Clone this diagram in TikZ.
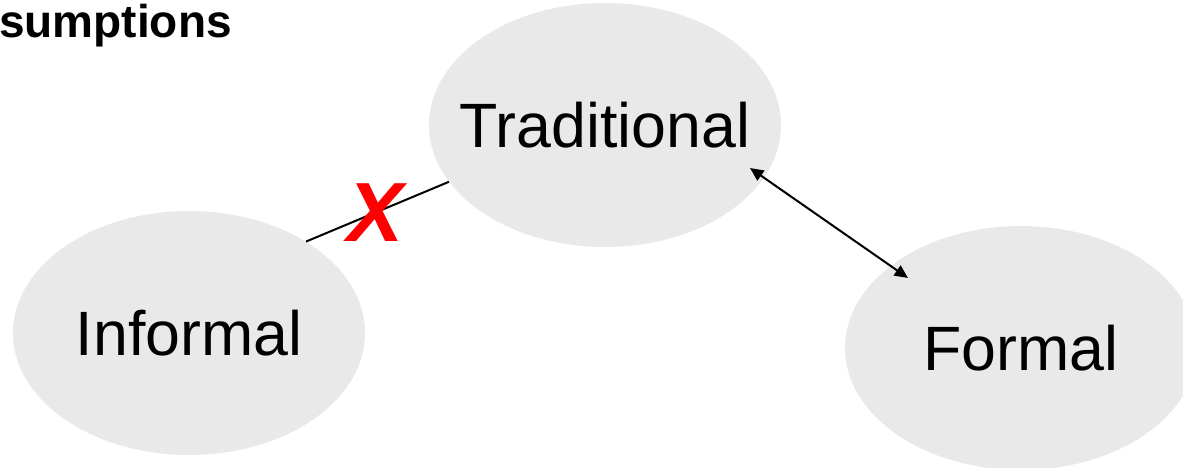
\documentclass[tikz,border=0pt]{standalone}
\usepackage{fontspec}
\setmainfont{Liberation Sans}
\usetikzlibrary{arrows.meta,shapes.geometric}
\definecolor{bubble}{HTML}{E9E9E9}
\definecolor{xred}{HTML}{FF0000}
\newcommand{\zw}[1]{\makebox[0pt]{#1}}
\begin{document}
\begin{tikzpicture}[x=0.75pt,y=-0.75pt,
  bubble/.style={ellipse,fill=bubble,draw=none,minimum width=264pt,minimum height=183pt,inner sep=0pt,
    font=\fontsize{47}{56}\selectfont},
  link/.style={line width=1.5pt,black},
  tip/.style={{Triangle[length=10pt,width=9pt]}-{Triangle[length=10pt,width=9pt]}}]
\useasboundingbox (0,0) rectangle (1183,468);
\clip (0,0) rectangle (1183,468);
\node[bubble] (trad) at (605,125) {\zw{Traditional}};
\node[bubble] (inf) at (189,333) {\zw{Informal}};
\node[bubble] (form) at (1021,348) {\zw{Formal}};
\node[anchor=base east,inner sep=0pt,font=\fontsize{34.5}{40}\selectfont\bfseries] (title) at (232,37) {sumptions};
\draw[link] (inf.38) -- (trad.200);
\draw[link,tip] ([shift={(145,43)}]trad.center) -- ([shift={(-113,-70)}]form.center);
\node[text=xred,inner sep=0pt,font=\fontsize{63}{70}\selectfont\bfseries\itshape] (cross) at (376,213) {X};
\end{tikzpicture}
\end{document}
